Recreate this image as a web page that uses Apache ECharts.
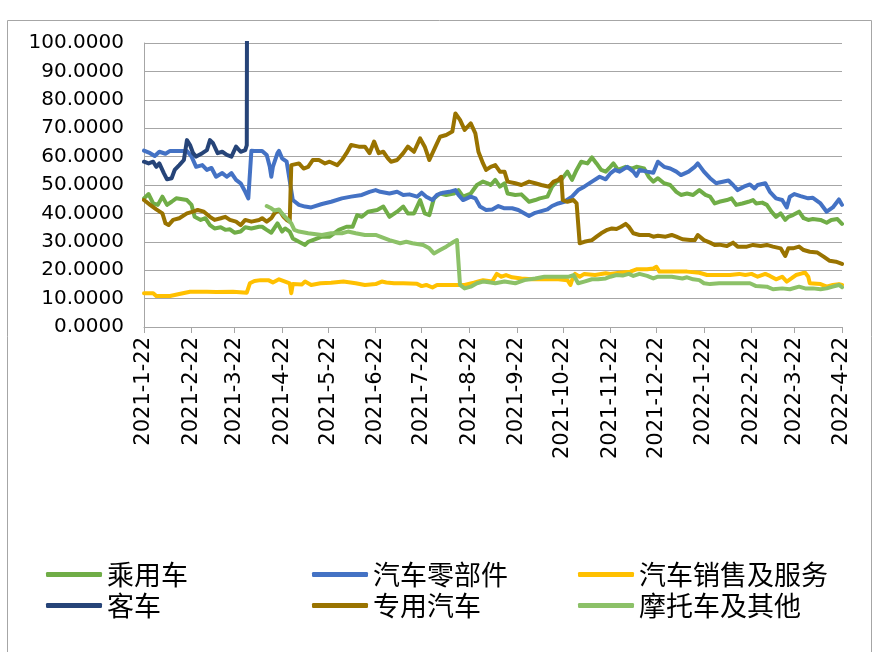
<!DOCTYPE html>
<html><head><meta charset="utf-8">
<script src="https://cdn.jsdelivr.net/npm/echarts@6/dist/echarts.min.js"></script>
<style>html,body{margin:0;padding:0;background:#fff}#c{width:878px;height:652px}</style>
</head><body><div id="c"></div>
<script>
// ---- tick labels (x axis) ----
const tickLabels = ['2021-1-22','2021-2-22','2021-3-22','2021-4-22','2021-5-22','2021-6-22','2021-7-22','2021-8-22','2021-9-22','2021-10-22','2021-11-22','2021-12-22','2022-1-22','2022-2-22','2022-3-22','2022-4-22'];

// ---- 乘用车 ----
const cyDates = ['2021-01-22','2021-01-25','2021-01-28','2021-01-31','2021-02-03','2021-02-06','2021-02-09','2021-02-12','2021-02-19','2021-02-22','2021-02-24','2021-02-28','2021-03-03','2021-03-06','2021-03-09','2021-03-13','2021-03-16','2021-03-19','2021-03-22','2021-03-26','2021-03-29','2021-04-02','2021-04-07','2021-04-09','2021-04-12','2021-04-15','2021-04-19','2021-04-22','2021-04-24','2021-04-27','2021-04-29','2021-05-03','2021-05-07','2021-05-09','2021-05-12','2021-05-18','2021-05-23','2021-05-29','2021-06-03','2021-06-07','2021-06-10','2021-06-13','2021-06-17','2021-06-23','2021-06-27','2021-07-01','2021-07-06','2021-07-10','2021-07-13','2021-07-17','2021-07-21','2021-07-24','2021-07-27','2021-07-30','2021-08-03','2021-08-07','2021-08-12','2021-08-15','2021-08-18','2021-08-23','2021-08-27','2021-08-31','2021-09-03','2021-09-05','2021-09-08','2021-09-11','2021-09-14','2021-09-16','2021-09-21','2021-09-25','2021-09-30','2021-10-04','2021-10-07','2021-10-12','2021-10-15','2021-10-18','2021-10-21','2021-10-25','2021-10-28','2021-10-31','2021-11-03','2021-11-07','2021-11-10','2021-11-13','2021-11-16','2021-11-19','2021-11-22','2021-11-24','2021-11-27','2021-12-02','2021-12-06','2021-12-09','2021-12-14','2021-12-17','2021-12-20','2021-12-23','2021-12-27','2021-12-31','2022-01-04','2022-01-07','2022-01-11','2022-01-15','2022-01-19','2022-01-23','2022-01-26','2022-01-29','2022-02-01','2022-02-06','2022-02-09','2022-02-12','2022-02-16','2022-02-20','2022-02-23','2022-02-25','2022-03-01','2022-03-04','2022-03-07','2022-03-10','2022-03-13','2022-03-16','2022-03-18','2022-03-21','2022-03-25','2022-03-28','2022-03-31','2022-04-03','2022-04-08','2022-04-12','2022-04-15','2022-04-19','2022-04-22'];
const cyVals = [45.3,46.8,43.5,43,45.9,43,44.1,45.3,44.7,43,38.8,37.7,38.3,35.9,34.7,35.1,34.2,34.4,33.2,33.6,35.1,34.7,35.3,35.3,34.2,33.2,36.5,33.6,34.7,33.6,31.2,30,28.9,30,30.6,31.8,31.8,34.2,35.3,35.3,39.4,38.8,40.6,41.2,42.4,38.8,40.6,42.4,40,40,44.7,40,39.4,45.3,47,46.5,47,48.2,45.9,47,50,51.2,50.6,50,51.8,49.4,50.6,47,46.5,46.7,44.1,44.7,45.3,45.9,49.4,51.2,51.8,54.7,51.8,55.3,58.2,57.6,59.7,57.6,55.3,54.7,56.4,57.6,55.3,56.4,55.8,56.4,55.8,52.9,51.2,52.4,50.6,50,47.6,46.5,47,46.5,48.2,46.5,45.9,43.5,44.1,44.7,45.3,43,43.5,44.1,44.7,43.5,43.8,43,40.6,38.8,40,37.7,38.8,39.4,40.6,38.3,37.7,38,37.7,36.7,37.7,38,36.3];

// ---- 汽车零部件 ----
const lbjDates = ['2021-01-22','2021-01-26','2021-01-29','2021-02-01','2021-02-05','2021-02-08','2021-02-19','2021-02-22','2021-02-25','2021-03-01','2021-03-04','2021-03-07','2021-03-10','2021-03-14','2021-03-17','2021-03-20','2021-03-23','2021-03-26','2021-03-29','2021-03-31','2021-04-02','2021-04-04','2021-04-09','2021-04-12','2021-04-14','2021-04-15','2021-04-16','2021-04-19','2021-04-20','2021-04-22','2021-04-25','2021-04-26','2021-04-29','2021-05-03','2021-05-07','2021-05-11','2021-05-12','2021-05-18','2021-05-24','2021-05-31','2021-06-06','2021-06-13','2021-06-18','2021-06-22','2021-06-25','2021-07-01','2021-07-06','2021-07-10','2021-07-14','2021-07-19','2021-07-22','2021-07-25','2021-07-29','2021-08-01','2021-08-05','2021-08-09','2021-08-13','2021-08-15','2021-08-18','2021-08-23','2021-08-26','2021-08-29','2021-09-02','2021-09-06','2021-09-10','2021-09-14','2021-09-19','2021-09-23','2021-09-30','2021-10-04','2021-10-12','2021-10-15','2021-10-19','2021-10-23','2021-10-28','2021-11-01','2021-11-05','2021-11-10','2021-11-15','2021-11-19','2021-11-22','2021-11-25','2021-11-28','2021-12-03','2021-12-07','2021-12-09','2021-12-11','2021-12-16','2021-12-20','2021-12-23','2021-12-27','2021-12-31','2022-01-04','2022-01-07','2022-01-12','2022-01-16','2022-01-18','2022-01-22','2022-01-26','2022-01-30','2022-02-01','2022-02-07','2022-02-10','2022-02-13','2022-02-17','2022-02-21','2022-02-24','2022-02-26','2022-03-03','2022-03-06','2022-03-10','2022-03-14','2022-03-17','2022-03-19','2022-03-22','2022-03-26','2022-03-31','2022-04-03','2022-04-08','2022-04-12','2022-04-16','2022-04-20','2022-04-22'];
const lbjVals = [62.1,61.2,60.2,61.7,61,62,62,60,56.4,57,55.3,56,52.9,54.2,52.9,54.2,51.8,50.6,47.6,45.3,62.1,62,62,60.6,56.4,52.9,56.4,61.2,62,59.4,58.2,57.6,44.7,43,42.4,42.1,42.6,43.3,44.1,45.3,45.9,46.5,47.6,48.2,47.6,47,47.6,46.5,46.7,45.9,47.3,45.9,44.7,46.5,47.3,47.6,48.2,46.5,44.7,45.9,45.3,42.4,41.2,41.4,42.6,41.8,41.8,41.2,39.1,40.2,41.4,42.6,43.5,44.1,45.9,48.2,49.4,51.2,52.9,52,54.1,55.3,54.7,56.4,54.7,53.2,55.3,54.7,54.3,58.2,56.4,55.8,54.7,53.5,54.7,56.4,57.6,54.7,52.4,50.6,50.9,51.6,50,48.2,49.4,50.2,48.8,50,50.6,47.6,45.3,44.7,42.1,45.9,46.8,46.1,45.3,45.5,43.5,40.6,42.1,44.9,43];

// ---- 汽车销售及服务 ----
const xsDates = ['2021-01-22','2021-01-28','2021-01-30','2021-02-08','2021-02-14','2021-02-21','2021-03-04','2021-03-10','2021-03-21','2021-03-30','2021-04-01','2021-04-04','2021-04-08','2021-04-13','2021-04-16','2021-04-20','2021-04-24','2021-04-27','2021-04-28','2021-04-29','2021-05-05','2021-05-07','2021-05-11','2021-05-17','2021-05-24','2021-06-01','2021-06-09','2021-06-15','2021-06-22','2021-06-26','2021-06-29','2021-07-04','2021-07-10','2021-07-19','2021-07-22','2021-07-25','2021-07-29','2021-08-01','2021-08-19','2021-08-25','2021-08-31','2021-09-06','2021-09-09','2021-09-12','2021-09-15','2021-09-19','2021-09-25','2021-10-02','2021-10-10','2021-10-19','2021-10-25','2021-10-27','2021-10-28','2021-10-30','2021-11-02','2021-11-05','2021-11-12','2021-11-19','2021-11-22','2021-11-28','2021-12-05','2021-12-09','2021-12-16','2021-12-20','2021-12-22','2021-12-24','2022-01-02','2022-01-11','2022-01-19','2022-01-24','2022-01-28','2022-02-01','2022-02-08','2022-02-14','2022-02-18','2022-02-22','2022-02-26','2022-03-03','2022-03-06','2022-03-10','2022-03-14','2022-03-17','2022-03-20','2022-03-23','2022-03-27','2022-03-29','2022-03-31','2022-04-01','2022-04-08','2022-04-12','2022-04-16','2022-04-20','2022-04-22'];
const xsVals = [11.9,11.9,10.9,10.9,11.6,12.4,12.4,12.3,12.4,12.1,15.4,16.2,16.5,16.5,15.7,16.8,16,15.4,11.9,15.1,15,16,14.8,15.4,15.6,16,15.4,14.8,15.1,16,15.7,15.4,15.4,15.2,14.4,14.8,13.9,14.8,14.8,15.6,16.5,16,18.7,17.7,18.3,17.5,17.1,16.8,16.8,16.8,16.5,14.8,16.5,18.7,17.7,18.7,18.3,18.9,18.7,19.1,19.5,20.3,20.3,20.6,21.2,19.5,19.5,19.5,19.1,18.3,18.3,18.3,18.3,18.7,18.3,18.7,17.7,18.7,18,16.8,17.7,16,17.1,18.3,18.9,19.1,17.7,15.4,15.1,14.2,14.8,15.1,14.8];

// ---- 客车 ----
const kcDates = ['2021-01-22','2021-01-25','2021-01-28','2021-01-30','2021-02-01','2021-02-04','2021-02-06','2021-02-09','2021-02-11','2021-02-14','2021-02-17','2021-02-19','2021-02-21','2021-02-23','2021-02-25','2021-03-01','2021-03-04','2021-03-06','2021-03-08','2021-03-11','2021-03-14','2021-03-17','2021-03-20','2021-03-21','2021-03-23','2021-03-26','2021-03-29','2021-03-30','2021-03-31'];
const kcVals = [58.2,57.6,58.2,56.4,57.6,54.1,52,52.4,55.3,57,58.8,65.8,64.1,61.2,60,61.2,62.3,65.8,64.7,61.2,61.7,60.6,60,60.6,63.5,61.7,62.3,64,400];

// ---- 专用汽车 ----
const zyDates = ['2021-01-22','2021-01-26','2021-01-30','2021-02-03','2021-02-05','2021-02-07','2021-02-10','2021-02-14','2021-02-19','2021-02-23','2021-02-26','2021-03-02','2021-03-06','2021-03-09','2021-03-13','2021-03-16','2021-03-19','2021-03-23','2021-03-26','2021-03-29','2021-04-02','2021-04-07','2021-04-09','2021-04-12','2021-04-15','2021-04-17','2021-04-20','2021-04-23','2021-04-25','2021-04-27','2021-04-28','2021-05-03','2021-05-06','2021-05-09','2021-05-12','2021-05-16','2021-05-20','2021-05-23','2021-05-28','2021-05-31','2021-06-03','2021-06-06','2021-06-11','2021-06-15','2021-06-18','2021-06-21','2021-06-22','2021-06-24','2021-06-27','2021-06-30','2021-07-02','2021-07-06','2021-07-10','2021-07-13','2021-07-17','2021-07-21','2021-07-24','2021-07-27','2021-07-31','2021-08-03','2021-08-07','2021-08-11','2021-08-13','2021-08-16','2021-08-19','2021-08-23','2021-08-26','2021-08-28','2021-08-31','2021-09-02','2021-09-05','2021-09-08','2021-09-11','2021-09-14','2021-09-16','2021-09-21','2021-09-25','2021-09-30','2021-10-04','2021-10-08','2021-10-13','2021-10-16','2021-10-19','2021-10-21','2021-10-22','2021-10-25','2021-10-29','2021-10-31','2021-11-02','2021-11-05','2021-11-10','2021-11-13','2021-11-16','2021-11-20','2021-11-23','2021-11-26','2021-11-29','2021-12-02','2021-12-04','2021-12-07','2021-12-11','2021-12-17','2021-12-20','2021-12-23','2021-12-28','2022-01-01','2022-01-04','2022-01-08','2022-01-13','2022-01-16','2022-01-18','2022-01-22','2022-01-26','2022-01-29','2022-02-01','2022-02-06','2022-02-10','2022-02-13','2022-02-19','2022-02-23','2022-02-28','2022-03-04','2022-03-08','2022-03-13','2022-03-16','2022-03-18','2022-03-21','2022-03-25','2022-03-28','2022-04-01','2022-04-06','2022-04-10','2022-04-14','2022-04-18','2022-04-22'];
const zyVals = [44.7,43,41.4,40,36.5,35.9,37.7,38.3,40,40.6,41.2,40.6,38.8,37.7,38.3,38.8,37.7,37.1,35.9,37.7,37.1,37.7,38.3,37.1,38.3,40,41.2,38.8,37.7,37.1,57,57.6,55.8,56.4,58.8,58.8,57.6,58.2,57,58.8,61.2,64.1,63.5,63.5,61.2,65.3,65.8,61.2,61.7,59.4,58.2,58.8,61.2,63.5,61.7,66.4,63.5,58.8,63.5,67,67.6,68.8,75.2,72.9,69.4,71.7,68.2,61.7,57.6,55.3,56.4,57,54.7,54.7,51.2,50.6,50,51.2,50.6,50,49.4,51.2,51.8,52.9,44.7,44.1,44.7,43.5,29.5,30,30.6,31.8,33,34.2,34.7,34.5,35.3,36.3,35.3,33,32.4,32.4,31.8,32.1,31.8,32.4,31.8,30.9,30.6,30.6,32.4,30.6,29.7,28.9,29,28.5,29.7,28.3,28.3,28.9,28.5,28.9,28.3,27.7,25,27.7,27.7,28.3,27.1,26.5,26.2,24.8,23.3,23,22.2];

// ---- 摩托车及其他 ----
const mtDates = ['2021-04-12','2021-04-15','2021-04-17','2021-04-20','2021-04-22','2021-04-24','2021-04-26','2021-04-28','2021-04-30','2021-05-03','2021-05-09','2021-05-18','2021-05-24','2021-05-31','2021-06-04','2021-06-09','2021-06-15','2021-06-22','2021-06-25','2021-07-01','2021-07-08','2021-07-12','2021-07-16','2021-07-23','2021-07-27','2021-07-30','2021-08-03','2021-08-07','2021-08-12','2021-08-14','2021-08-16','2021-08-19','2021-08-23','2021-08-27','2021-08-31','2021-09-05','2021-09-08','2021-09-14','2021-09-21','2021-09-27','2021-10-04','2021-10-10','2021-10-19','2021-10-26','2021-10-29','2021-11-01','2021-11-05','2021-11-10','2021-11-14','2021-11-19','2021-11-22','2021-11-26','2021-11-30','2021-12-04','2021-12-07','2021-12-11','2021-12-16','2021-12-20','2021-12-23','2021-12-28','2022-01-01','2022-01-08','2022-01-11','2022-01-15','2022-01-19','2022-01-22','2022-01-26','2022-02-01','2022-02-21','2022-02-25','2022-03-04','2022-03-08','2022-03-14','2022-03-19','2022-03-25','2022-03-29','2022-04-03','2022-04-08','2022-04-12','2022-04-16','2022-04-20','2022-04-22'];
const mtVals = [42.6,41.8,41,41.4,40,38.8,37.7,36.5,34.2,33.6,33,32.4,33,33,33.6,33,32.4,32.4,31.8,30.6,29.5,30,29.5,28.9,27.7,25.9,27.1,28.3,30,30.6,14.8,13.6,14.2,15.4,16,15.7,15.4,16,15.4,16.5,17.1,17.7,17.7,17.7,18.3,15.4,16,16.8,16.8,17.1,17.7,18.3,18.1,18.7,18,18.7,18,17.1,17.7,17.7,17.7,17.1,17.5,16.8,16.5,15.4,15.1,15.4,15.4,14.4,14.2,13.3,13.6,13.3,14.2,13.6,13.6,13.3,13.6,14.2,14.8,14];

// day index (days since the first tick date) used as the x value on a linear axis
function parseDate(s){ const p = s.split('-').map(Number); return Date.UTC(p[0], p[1]-1, p[2]); }
const day0 = parseDate(tickLabels[0]);
function dayIdx(s){ return Math.round((parseDate(s) - day0) / 86400000); }
function pairs(dates, vals){ return dates.map((d,i)=>[dayIdx(d), vals[i]]); }

const seriesDefs = [
  {name:'乘用车', dates:cyDates, vals:cyVals, color:'#70AD47'},
  {name:'汽车零部件', dates:lbjDates, vals:lbjVals, color:'#4472C4'},
  {name:'汽车销售及服务', dates:xsDates, vals:xsVals, color:'#FFC000'},
  {name:'客车', dates:kcDates, vals:kcVals, color:'#264478'},
  {name:'专用汽车', dates:zyDates, vals:zyVals, color:'#997300'},
  {name:'摩托车及其他', dates:mtDates, vals:mtVals, color:'#8CC168'}
];

const tickIdx = tickLabels.map(dayIdx);
const labelFor = {}; tickIdx.forEach((t,i)=>{ labelFor[t] = tickLabels[i]; });

const chart = echarts.init(document.getElementById('c'), null, {renderer:'canvas'});
const legendText = {fontSize:27, color:'#000', fontFamily:'"Noto Sans CJK SC", sans-serif', lineHeight:31};
function mkLegend(left, names){
  return {orient:'vertical', left:left, top:559, itemWidth:56, itemHeight:5, itemGap:0, icon:'roundRect', padding:0,
    textStyle:legendText, data:names};
}
chart.setOption({
  animation:false,
  backgroundColor:'#fff',
  graphic:[{type:'rect', left:5, top:18, shape:{x:0,y:0,width:864,height:700}, style:{fill:null, stroke:'#A6A6A6', lineWidth:1}, silent:true}],
  grid:{left:144, right:36, top:43, bottom:325, containLabel:false},
  legend:[mkLegend(46,['乘用车','客车']), mkLegend(312,['汽车零部件','专用汽车']), mkLegend(578,['汽车销售及服务','摩托车及其他'])],
  xAxis:{type:'value', min:tickIdx[0], max:tickIdx[tickIdx.length-1],
    axisLine:{show:true, lineStyle:{color:'#A6A6A6', width:1}},
    axisTick:{show:true, length:6, lineStyle:{color:'#A6A6A6'}, customValues:tickIdx},
    axisLabel:{rotate:90, margin:10, fontSize:21, color:'#000', fontFamily:'"DejaVu Sans", sans-serif', customValues:tickIdx,
      formatter:function(v){ return labelFor[v] !== undefined ? labelFor[v] : ''; }},
    splitLine:{show:false}},
  yAxis:{type:'value', min:0, max:100, interval:10,
    axisLine:{show:true, lineStyle:{color:'#A6A6A6', width:1}},
    axisTick:{show:false},
    axisLabel:{margin:20, fontSize:20, color:'#000', fontFamily:'"DejaVu Sans", sans-serif', formatter:function(v){return v.toFixed(4);}},
    splitLine:{show:true, lineStyle:{color:'#A6A6A6', width:1}}},
  series: seriesDefs.map(s=>({name:s.name, type:'line', data:pairs(s.dates, s.vals), showSymbol:false, symbol:'none',
    lineStyle:{color:s.color, width:4, cap:'round', join:'round'}, itemStyle:{color:s.color}, clip:true}))
});
</script></body></html>
